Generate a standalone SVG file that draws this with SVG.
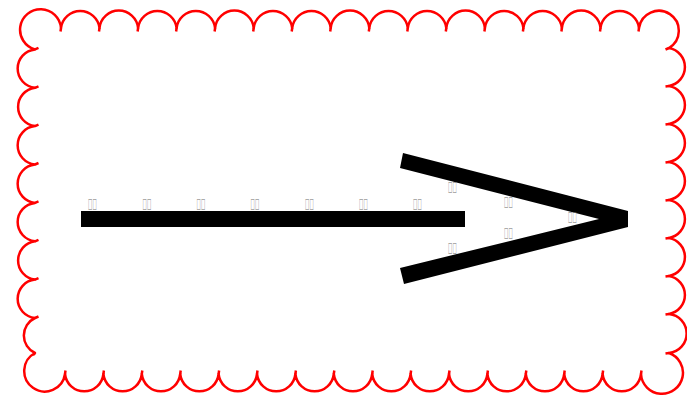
<svg xmlns="http://www.w3.org/2000/svg" width="687" height="396" viewBox="0 0 687 396">
<style>
.cloud{fill:none;stroke:#ff0000;stroke-width:2.5;stroke-linecap:butt;stroke-linejoin:round}
.lbl{font-family:"Liberation Sans",sans-serif;font-size:16px;fill:#6e6e6e;text-anchor:middle}
</style>
<rect width="687" height="396" fill="#ffffff"/>
<g id="border">
<path class="cloud" d="M35 49.4 A20.5 20.5 0 1 1 61 28
A19.4 19.4 0 0 1 99.5 28 A19.4 19.4 0 0 1 138.1 28 A19.4 19.4 0 0 1 176.6 28 A19.4 19.4 0 0 1 215.1 28
A19.4 19.4 0 0 1 253.7 28 A19.4 19.4 0 0 1 292.2 28 A19.4 19.4 0 0 1 330.7 28 A19.4 19.4 0 0 1 369.3 28
A19.4 19.4 0 0 1 407.8 28 A19.4 19.4 0 0 1 446.3 28 A19.4 19.4 0 0 1 484.9 28 A19.4 19.4 0 0 1 523.4 28
A19.4 19.4 0 0 1 561.9 28 A19.4 19.4 0 0 1 600.5 28 A19.4 19.4 0 0 1 639 28
A20 20 0 1 1 669 48
A19.3 19.3 0 0 1 669 86 A19.3 19.3 0 0 1 669 124 A19.3 19.3 0 0 1 669 162 A19.3 19.3 0 0 1 669 200
A19.3 19.3 0 0 1 669 238 A19.3 19.3 0 0 1 669 276 A19.3 19.3 0 0 1 669 314 A19.6 19.6 0 0 1 669 353
A21 21 0 1 1 641 374
A19.3 19.3 0 0 1 602.6 374 A19.3 19.3 0 0 1 564.2 374 A19.3 19.3 0 0 1 525.8 374 A19.3 19.3 0 0 1 487.4 374
A19.3 19.3 0 0 1 449 374 A19.3 19.3 0 0 1 410.6 374 A19.3 19.3 0 0 1 372.2 374 A19.3 19.3 0 0 1 333.8 374
A19.3 19.3 0 0 1 295.4 374 A19.3 19.3 0 0 1 257 374 A19.3 19.3 0 0 1 218.6 374 A19.3 19.3 0 0 1 180.2 374
A19.3 19.3 0 0 1 141.8 374 A19.3 19.3 0 0 1 103.4 374 A19.3 19.3 0 0 1 65 374
A20.5 20.5 0 1 1 35 353
A19.3 19.3 0 0 1 35 318 A19.3 19.3 0 0 1 35 279.6 A19.3 19.3 0 0 1 35 241.3 A19.3 19.3 0 0 1 35 202.9
A19.3 19.3 0 0 1 35 164.5 A19.3 19.3 0 0 1 35 126.1 A19.3 19.3 0 0 1 35 87.8 A19.3 19.3 0 0 1 35 49.4 Z"/>
<path class="cloud" d="M61 28 l-0.5 3.5 M99.5 28 l-0.5 3.5 M138.1 28 l-0.5 3.5 M176.6 28 l-0.5 3.5 M215.1 28 l-0.5 3.5 M253.7 28 l-0.5 3.5 M292.2 28 l-0.5 3.5 M330.7 28 l-0.5 3.5 M369.3 28 l-0.5 3.5 M407.8 28 l-0.5 3.5 M446.3 28 l-0.5 3.5 M484.9 28 l-0.5 3.5 M523.4 28 l-0.5 3.5 M561.9 28 l-0.5 3.5 M600.5 28 l-0.5 3.5 M639 28 l-0.5 3.5
M669 48 l-3.5 1.5 M669 86 l-3.5 0.5 M669 124 l-3.5 0.5 M669 162 l-3.5 0.5 M669 200 l-3.5 0.5 M669 238 l-3.5 0.5 M669 276 l-3.5 0.5 M669 314 l-3.5 0.5 M669 353 l-3.5 0.5
M641 374 l0.5 -3.5 M602.6 374 l0.5 -3.5 M564.2 374 l0.5 -3.5 M525.8 374 l0.5 -3.5 M487.4 374 l0.5 -3.5 M449 374 l0.5 -3.5 M410.6 374 l0.5 -3.5 M372.2 374 l0.5 -3.5 M333.8 374 l0.5 -3.5 M295.4 374 l0.5 -3.5 M257 374 l0.5 -3.5 M218.6 374 l0.5 -3.5 M180.2 374 l0.5 -3.5 M141.8 374 l0.5 -3.5 M103.4 374 l0.5 -3.5 M65 374 l0.5 -3.5
M35 353 l-2 2 M35 318 l3.5 -1.5 M35 279.6 l3.5 -1.5 M35 241.3 l3.5 -1.5 M35 202.9 l3.5 -1.5 M35 164.5 l3.5 -1.5 M35 126.1 l3.5 -1.5 M35 87.8 l3.5 -1.5 M35 49.4 l3.5 -1.5"/>
</g>
<g id="connectors">
<rect id="shaft" x="81" y="211" width="384" height="16" fill="#000000"/>
<polygon id="head" points="403,153 628,211 628,227 404,284 400,268 599,219 400,168" fill="#000000"/>
</g>
<g id="labels">
<text class="lbl" x="92.5" y="209.5" textLength="9" lengthAdjust="spacingAndGlyphs">&#xE000;&#xE000;</text>
<text class="lbl" x="147" y="209.5" textLength="9" lengthAdjust="spacingAndGlyphs">&#xE000;&#xE000;</text>
<text class="lbl" x="201" y="209.5" textLength="9" lengthAdjust="spacingAndGlyphs">&#xE000;&#xE000;</text>
<text class="lbl" x="255" y="209.5" textLength="9" lengthAdjust="spacingAndGlyphs">&#xE000;&#xE000;</text>
<text class="lbl" x="309.5" y="209.5" textLength="9" lengthAdjust="spacingAndGlyphs">&#xE000;&#xE000;</text>
<text class="lbl" x="363.5" y="209.5" textLength="9" lengthAdjust="spacingAndGlyphs">&#xE000;&#xE000;</text>
<text class="lbl" x="417.5" y="209.5" textLength="9" lengthAdjust="spacingAndGlyphs">&#xE000;&#xE000;</text>
<text class="lbl" x="452.5" y="193" textLength="9" lengthAdjust="spacingAndGlyphs">&#xE000;&#xE000;</text>
<text class="lbl" x="508.5" y="208" textLength="9" lengthAdjust="spacingAndGlyphs">&#xE000;&#xE000;</text>
<text class="lbl" x="572.5" y="223" textLength="9" lengthAdjust="spacingAndGlyphs">&#xE000;&#xE000;</text>
<text class="lbl" x="508.5" y="239" textLength="9" lengthAdjust="spacingAndGlyphs">&#xE000;&#xE000;</text>
<text class="lbl" x="452.5" y="254" textLength="9" lengthAdjust="spacingAndGlyphs">&#xE000;&#xE000;</text>
</g>
</svg>
